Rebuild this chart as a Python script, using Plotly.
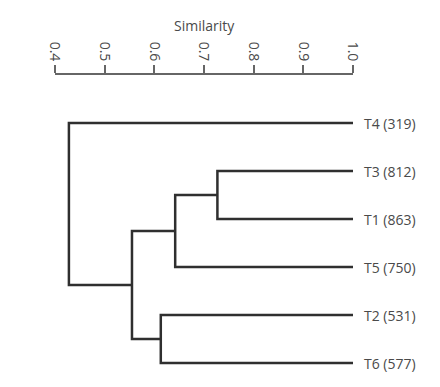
import plotly.graph_objects as go

# Data
leaf_labels = ["T4 (319)", "T3 (812)", "T1 (863)", "T5 (750)", "T2 (531)", "T6 (577)"]
# merges: (left node, right node, similarity); leaves are 0..5, new nodes are 6..
merge_left = [1, 4, 6, 8, 0]
merge_right = [2, 5, 3, 7, 9]
merge_sim = [0.727, 0.613, 0.642, 0.555, 0.428]
tick_vals = [0.4, 0.5, 0.6, 0.7, 0.8, 0.9, 1.0]
tick_text = ["0.4", "0.5", "0.6", "0.7", "0.8", "0.9", "1.0"]
axis_title = "Similarity"

# node positions
pos_x = {i: 1.0 for i in range(len(leaf_labels))}
pos_y = {i: float(i) for i in range(len(leaf_labels))}

xs, ys = [], []
nid = len(leaf_labels)
for a, b, s in zip(merge_left, merge_right, merge_sim):
    xs += [pos_x[a], s, s, pos_x[b], None]
    ys += [pos_y[a], pos_y[a], pos_y[b], pos_y[b], None]
    pos_x[nid] = s
    pos_y[nid] = (pos_y[a] + pos_y[b]) / 2
    nid += 1

FONT = "Open Sans"
TXT = "#4a4a4a"

fig = go.Figure()
fig.add_trace(go.Scatter(x=xs, y=ys, mode="lines",
                         line=dict(color="#2f2f2f", width=2.5),
                         hoverinfo="skip", showlegend=False))

for i, lab in enumerate(leaf_labels):
    fig.add_annotation(x=1.0, y=i, xref="x", yref="y", text=lab,
                       showarrow=False, xanchor="left", xshift=9,
                       font=dict(family=FONT, size=14, color=TXT))

T, B = 67, 15
fig.add_annotation(x=0.5, y=1, xref="paper", yref="paper", yshift=T - 17,
                   text=axis_title, showarrow=False, xanchor="center", yanchor="middle",
                   font=dict(family=FONT, size=14, color=TXT))

H = 387 - T - B
unit = 48.0
r0 = -1.0
r1 = r0 + H / unit

fig.update_layout(
    width=440, height=387,
    margin=dict(l=47, r=95, t=T, b=B, autoexpand=False),
    paper_bgcolor="white", plot_bgcolor="white",
    font=dict(family=FONT, size=14, color=TXT),
    xaxis=dict(side="top", range=[0.4, 1.0], tickvals=tick_vals, ticktext=tick_text,
               tickangle=90, ticks="outside", ticklen=8, tickcolor="#666666", tickwidth=1.5,
               tickfont=dict(family=FONT, size=14, color=TXT), ticklabelstandoff=-1,
               showline=True, linecolor="#666666", linewidth=1.5,
               showgrid=False, zeroline=False, automargin=False),
    yaxis=dict(range=[r1, r0], visible=False, showgrid=False, zeroline=False, automargin=False),
)

fig.write_html("out.html")
